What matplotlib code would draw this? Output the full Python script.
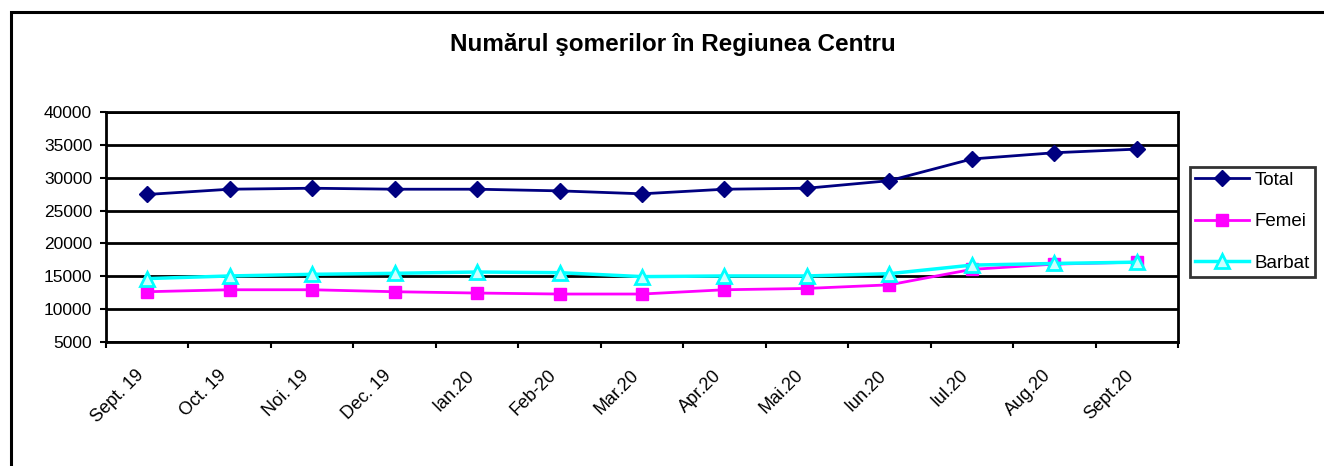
import numpy as np
import matplotlib
matplotlib.use("Agg")
import matplotlib.pyplot as plt
from matplotlib.patches import Rectangle
from matplotlib.transforms import ScaledTranslation

plt.rcParams['font.family'] = ['Liberation Sans', 'DejaVu Sans']

months = ['Sept. 19', 'Oct. 19', 'Noi. 19', 'Dec. 19', 'Ian.20', 'Feb-20', 'Mar.20',
          'Apr.20', 'Mai.20', 'Iun.20', 'Iul.20', 'Aug.20', 'Sept.20']
total = [27450, 28250, 28400, 28250, 28250, 28000, 27550,
         28250, 28400, 29550, 32850, 33800, 34350]
femei = [12650, 12950, 12950, 12650, 12450, 12300, 12300,
         12950, 13150, 13700, 16050, 16850, 17150]
barbat = [14650, 15050, 15300, 15450, 15650, 15550, 14950,
          15050, 15050, 15400, 16700, 16950, 17150]

fig = plt.figure(figsize=(13.24, 4.66), dpi=100)
fig.patch.set_facecolor('white')
# chart area border
fig.patches.append(Rectangle((11 / 1324, -0.1), 1.2, (1 - 12 / 466) + 0.1,
                             transform=fig.transFigure, fill=False,
                             edgecolor='black', linewidth=2.2))

ax = fig.add_axes([106 / 1324, 1 - 342 / 466, (1178 - 106) / 1324, (342 - 112) / 466])
x = np.arange(len(months))

ax.plot(x, total, color='#000080', lw=2, marker='D', ms=8,
        mfc='#000080', mec='#000080', label='Total', zorder=5)
ax.plot(x, femei, color='#FF00FF', lw=2, marker='s', ms=9,
        mfc='#FF00FF', mec='#FF00FF', label='Femei', zorder=4)
ax.plot(x, barbat, color='#00FFFF', lw=2.5, marker='^', ms=10,
        mfc='#CCFFFF', mec='#00FFFF', mew=2, label='Barbat', zorder=6)

ax.set_xlim(-0.5, len(months) - 0.5)
ax.set_ylim(5000, 40000)
ax.set_yticks(np.arange(5000, 40001, 5000))
ax.yaxis.grid(True, color='black', lw=2)
ax.set_axisbelow(True)

ax.set_xticks(x)
ax.set_xticklabels(months, rotation=45, ha='right', va='top', fontsize=13)
shift = ScaledTranslation(-6 / 100, 0, fig.dpi_scale_trans)
for lbl in ax.get_xticklabels():
    lbl.set_transform(lbl.get_transform() + shift)
ax.tick_params(axis='x', length=0, pad=18)
ax.set_xticks(np.arange(-0.5, len(months)), minor=True)
ax.tick_params(axis='x', which='minor', length=4.5, width=1.5, direction='out')
ax.tick_params(axis='y', length=4, width=1.5, direction='out', labelsize=12.5, pad=6)
for s in ax.spines.values():
    s.set_color('black')
    s.set_linewidth(2)

fig.text(673 / 1324, 1 - 45 / 466, 'Numărul şomerilor în Regiunea Centru',
         ha='center', va='center', fontsize=17.5, fontweight='bold')

leg = fig.legend(loc='upper left', bbox_to_anchor=(1190 / 1324, 1 - 167 / 466),
                 fontsize=13.5, frameon=True, fancybox=False, borderpad=0.25,
                 labelspacing=1.3, handlelength=2.9, handletextpad=0.3,
                 borderaxespad=0)
leg.get_frame().set_edgecolor('black')
leg.get_frame().set_linewidth(2)

fig.savefig('out.png', dpi=100)
